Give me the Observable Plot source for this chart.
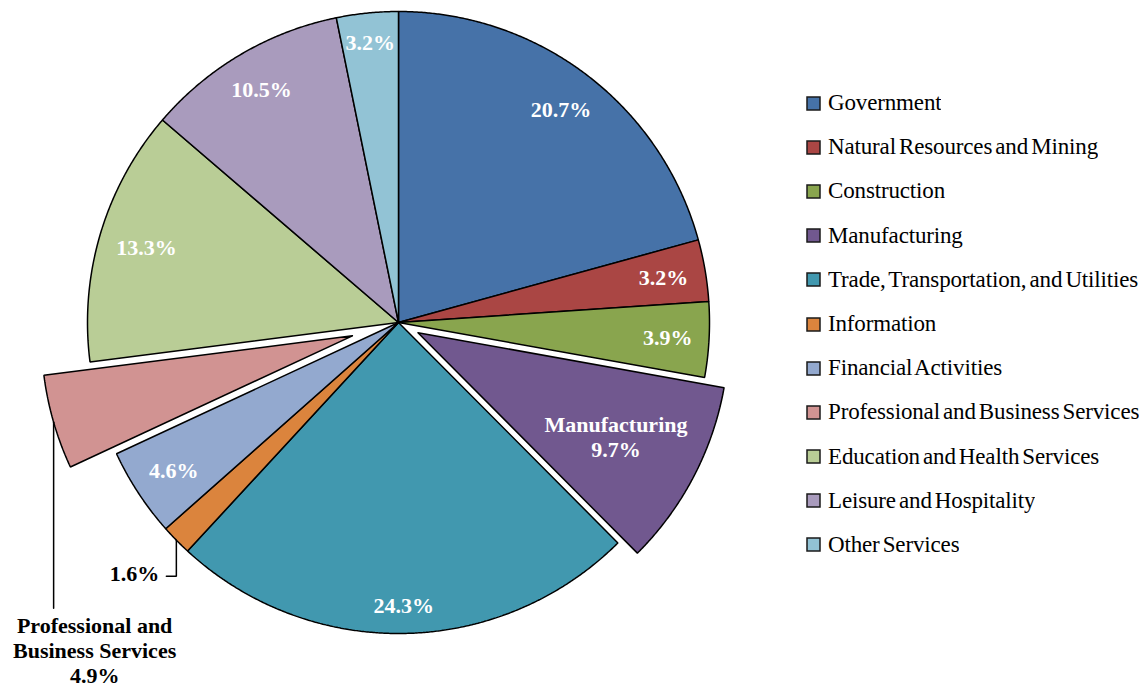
<!DOCTYPE html>
<html><head><meta charset="utf-8">
<script src="https://cdn.jsdelivr.net/npm/d3@7"></script>
<script src="https://cdn.jsdelivr.net/npm/@observablehq/plot@0.6"></script>
<style>
body{margin:0;background:#fff;}
#wrap{position:relative;width:1145px;height:687px;}
#legend{position:absolute;left:807px;top:81px;}
#legend .lg-swatches{font-family:"Liberation Serif","Times New Roman",serif;font-size:23px;margin:0;color:#000;word-spacing:-2.5px;letter-spacing:-0.15px;}
#legend .lg-swatch{height:44.2px;padding:0;}
#legend .lg-swatch>svg{margin-right:8px;}
#legend .lg-swatch rect{stroke:#1a1a1a;stroke-width:1.5px;}
</style></head><body><div id="wrap"><div id="chart"></div><div id="legend"></div></div>
<script>
// ---- data ----
const categories = ["Government","Natural Resources and Mining","Construction","Manufacturing","Trade, Transportation, and Utilities","Information","Financial Activities","Professional and Business Services","Education and Health Services","Leisure and Hospitality","Other Services"];
const shares = [20.7, 3.2, 3.9, 9.7, 24.3, 1.6, 4.6, 4.9, 13.3, 10.5, 3.2];
const colors = ["#4672A8","#AA4644","#89A54E","#71588F","#4198AF","#DB843D","#93A9CF","#D19392","#B9CD96","#A99BBD","#92C3D5"];
// category names shown inside data labels (with line breaks)
const labelNames = {"Manufacturing": "Manufacturing", "Professional and Business Services": "Professional and\nBusiness Services"};

// ---- layout / style ----
const W = 1145, H = 687, CX = 398, CY = 322, R = 311;
const explodePx = {"Manufacturing": 22, "Professional and Business Services": 48};
const callouts = {
  "Information": {drop: 36, run: -10, anchor: "end", dx: -7, dy: -3, lineAnchor: "middle"},
  "Professional and Business Services": {drop: 186, run: 0, anchor: "middle", dx: 41, dy: 7, lineAnchor: "top"}
};
const FONT = "Liberation Serif, Times New Roman, serif";
const labelSize = 22, lineH = 25, pad = 16;

const total = d3.sum(shares);
const ctx = document.createElement("canvas").getContext("2d");
ctx.font = `bold ${labelSize}px "Liberation Serif"`;

const polys = [], labels = [], leaders = [];
let acc = 0;
categories.forEach((cat, i) => {
  const a0 = acc / total * 2 * Math.PI;
  acc += shares[i];
  const a1 = acc / total * 2 * Math.PI;
  const mid = (a0 + a1) / 2;
  const e = (explodePx[cat] || 0) / R;
  const ox = e * Math.sin(mid), oy = -e * Math.cos(mid);
  polys.push({cat, x: ox, y: oy});
  const n = Math.max(4, Math.ceil((a1 - a0) / 0.005));
  for (let k = 0; k <= n; k++) {
    const a = a0 + (a1 - a0) * k / n;
    polys.push({cat, x: ox + Math.sin(a), y: oy - Math.cos(a)});
  }
  polys.push({cat, x: ox, y: oy});
  const pct = shares[i].toFixed(1) + "%";
  const text = labelNames[cat] ? labelNames[cat] + "\n" + pct : pct;
  if (callouts[cat]) {
    const c = callouts[cat];
    const px = ox + Math.sin(mid), py = oy - Math.cos(mid);
    const bx = px, by = py + c.drop / R, ex = bx + c.run / R;
    leaders.push({cat, x: px, y: py}, {cat, x: bx, y: by}, {cat, x: ex, y: by});
    labels.push({text, x: ex, y: by, fill: "black", anchor: c.anchor, dx: c.dx, dy: c.dy, lineAnchor: c.lineAnchor});
  } else {
    const lines = text.split("\n");
    const hw = d3.max(lines, l => ctx.measureText(l).width) / 2;
    const hh = 10 + (lines.length - 1) * lineH / 4;
    const ux = Math.abs(Math.sin(mid)), uy = Math.abs(Math.cos(mid));
    const b = ux * hw + uy * hh, c = hw * hw + hh * hh - (R - pad) * (R - pad);
    const r = (-b + Math.sqrt(b * b - c)) / R;
    labels.push({text, x: ox + r * Math.sin(mid), y: oy - r * Math.cos(mid), fill: "white", anchor: "middle", dx: 0, dy: 0, lineAnchor: "middle"});
  }
});

const inside = labels.filter(d => d.fill === "white");
const outside = labels.filter(d => d.fill !== "white");

const chart = Plot.plot({
  width: W, height: H, margin: 0,
  x: {domain: [-CX / R, (W - CX) / R], range: [0, W], axis: null},
  y: {domain: [-CY / R, (H - CY) / R], range: [0, H], axis: null},
  color: {domain: categories, range: colors},
  style: {background: "white"},
  marks: [
    Plot.line(polys, {x: "x", y: "y", z: "cat", fill: "cat", stroke: "#000", strokeWidth: 1.5, strokeLinejoin: "miter", curve: "linear"}),
    Plot.text(inside, {x: "x", y: "y", text: "text", fill: "white", fontFamily: FONT, fontWeight: "bold", fontSize: labelSize, lineHeight: lineH / labelSize, textAnchor: "middle", lineAnchor: "middle"}),
    Plot.line(leaders, {x: "x", y: "y", z: "cat", stroke: "#000", strokeWidth: 1.5, strokeLinejoin: "miter"}),
    ...outside.map(d => Plot.text([d], {x: "x", y: "y", text: "text", fill: "black", fontFamily: FONT, fontWeight: "bold", fontSize: labelSize, lineHeight: lineH / labelSize, textAnchor: d.anchor, lineAnchor: d.lineAnchor, dx: d.dx, dy: d.dy}))
  ]
});
document.getElementById("chart").append(chart);
document.getElementById("legend").append(chart.legend("color", {columns: 1, swatchSize: 13, className: "lg"}));
</script></body></html>
